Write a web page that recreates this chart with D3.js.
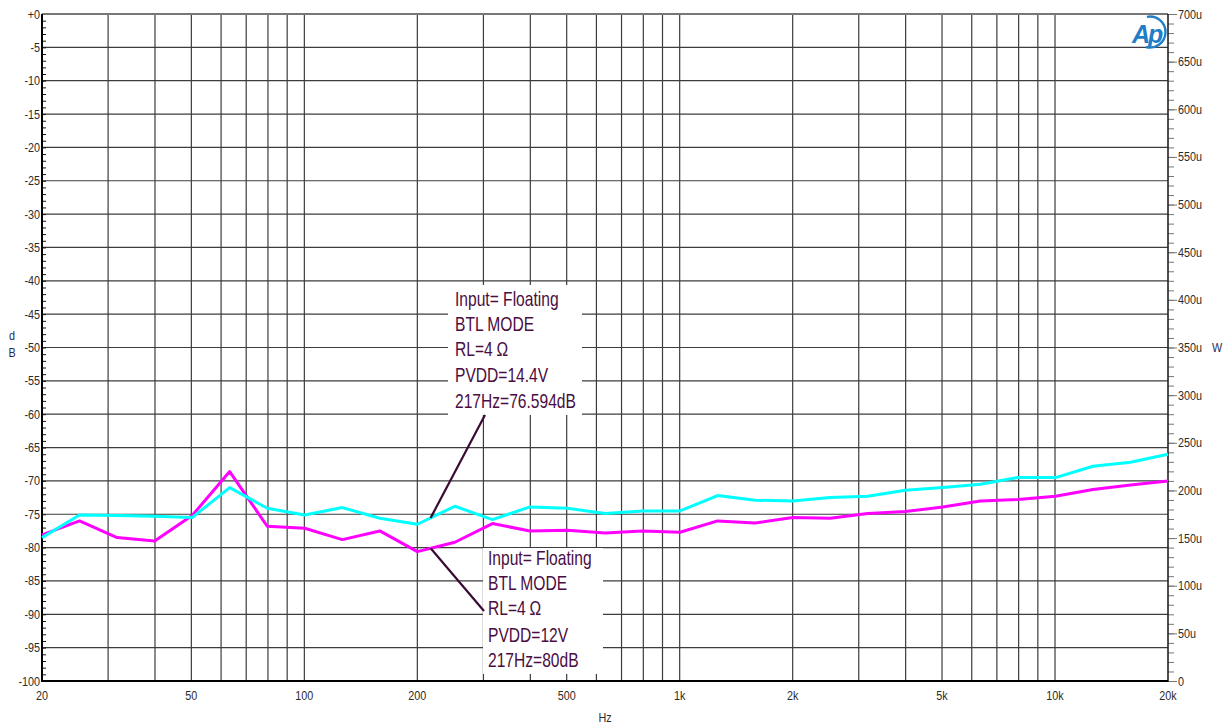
<!DOCTYPE html>
<html>
<head>
<meta charset="utf-8">
<script src="https://cdn.jsdelivr.net/npm/d3@7"></script>
<style>
  html, body { margin: 0; padding: 0; background: #fff; }
  svg { display: block; font-family: "Liberation Sans", Arial, sans-serif; }
</style>
</head>
<body>
<svg id="chart" width="1232" height="725"></svg>
<script>
// 1/3-octave sweep frequencies (Hz)
const freqs = [20, 25.18, 31.70, 39.91, 50.24, 63.25, 79.62, 100.2, 126.2, 158.9,
               200, 251.8, 317.0, 399.1, 502.4, 632.5, 796.2, 1002, 1262, 1589,
               2000, 2518, 3170, 3991, 5024, 6325, 7962, 10024, 12619, 15887, 20000];

// Level in dB, PVDD = 14.4 V
const levelPvdd144 = [-78.5, -75.1, -75.2, -75.3, -75.5, -71.0, -74.1, -75.1, -74.0, -75.6,
                      -76.5, -73.8, -75.8, -73.9, -74.1, -74.9, -74.5, -74.5, -72.2, -72.9,
                      -73.0, -72.5, -72.3, -71.4, -71.0, -70.5, -69.5, -69.5, -67.8, -67.2, -66.0];

// Level in dB, PVDD = 12 V
const levelPvdd12 = [-78.1, -76.0, -78.5, -79.0, -75.2, -68.6, -76.8, -77.1, -78.8, -77.5,
                     -80.6, -79.2, -76.4, -77.5, -77.4, -77.8, -77.5, -77.7, -76.0, -76.3,
                     -75.5, -75.6, -74.9, -74.6, -73.9, -73.0, -72.8, -72.3, -71.3, -70.6, -70.0];

const freqTickValues = [20, 50, 100, 200, 500, 1000, 2000, 5000, 10000, 20000];
const freqTickLabels = ["20", "50", "100", "200", "500", "1k", "2k", "5k", "10k", "20k"];

const dbTickValues = [0, -5, -10, -15, -20, -25, -30, -35, -40, -45, -50,
                      -55, -60, -65, -70, -75, -80, -85, -90, -95, -100];
const dbTickLabels = ["+0", "-5", "-10", "-15", "-20", "-25", "-30", "-35", "-40", "-45", "-50",
                      "-55", "-60", "-65", "-70", "-75", "-80", "-85", "-90", "-95", "-100"];

const wattTickValues = [0, 50e-6, 100e-6, 150e-6, 200e-6, 250e-6, 300e-6, 350e-6,
                        400e-6, 450e-6, 500e-6, 550e-6, 600e-6, 650e-6, 700e-6];
const wattTickLabels = ["0", "50u", "100u", "150u", "200u", "250u", "300u", "350u",
                        "400u", "450u", "500u", "550u", "600u", "650u", "700u"];

const noteFreq = 217;
const noteHighLines = ["Input= Floating", "BTL MODE", "RL=4", "PVDD=14.4V", "217Hz=76.594dB"];
const noteLowLines  = ["Input= Floating", "BTL MODE", "RL=4", "PVDD=12V", "217Hz=80dB"];

const svg = d3.select("#chart");
const plotLeft = 42, plotRight = 1168, plotTop = 14, plotBottom = 681;

const x = d3.scaleLog().domain([20, 20000]).range([plotLeft, plotRight]);
const y = d3.scaleLinear().domain([-100, 0]).range([plotBottom, plotTop]);
const yW = d3.scaleLinear().domain([0, 700e-6]).range([plotBottom, plotTop]);

const gridColor = "#3c3c3c";
const labelColor = "#2b2b2b";
const squeeze = 0.8;   // horizontal condensing of the label face

// Places a condensed text at (px, py)
function narrowText(parent, px, py, str, size, anchor, fill, k = squeeze) {
  return parent.append("text")
    .attr("transform", `translate(${px},${py}) scale(${k},1)`)
    .attr("text-anchor", anchor).attr("font-size", size).attr("fill", fill)
    .text(str);
}

// Vertical log grid lines
const gridFreqs = [];
[10, 100, 1000, 10000].forEach(d => {
  for (let m = 1; m <= 9; m++) {
    const f = m * d;
    if (f > 20 && f < 20000) gridFreqs.push(f);
  }
});
svg.append("g").selectAll("line").data(gridFreqs).join("line")
  .attr("x1", d => x(d)).attr("x2", d => x(d))
  .attr("y1", plotTop).attr("y2", plotBottom)
  .attr("stroke", gridColor).attr("stroke-width", 1.2);

// Horizontal grid lines every 5 dB
svg.append("g").selectAll("line").data(dbTickValues.filter(v => v < 0 && v > -100)).join("line")
  .attr("x1", plotLeft).attr("x2", plotRight)
  .attr("y1", d => y(d)).attr("y2", d => y(d))
  .attr("stroke", gridColor).attr("stroke-width", 1.2);

// Left axis: minor ticks every 1 dB pointing inward
const leftAxis = d3.axisRight(y).tickValues(d3.range(-100, 1, 1)).tickSize(4).tickFormat("");
svg.append("g").attr("transform", `translate(${plotLeft},0)`).call(leftAxis)
  .call(g => g.select(".domain").remove())
  .call(g => g.selectAll(".tick line").attr("stroke", "#111"));

// Left axis labels
const leftLabels = svg.append("g");
dbTickValues.forEach((v, i) =>
  narrowText(leftLabels, plotLeft - 2, y(v) + 4.5, dbTickLabels[i], 13.5, "end", labelColor));

// Right axis: watts, minor ticks every 10u and longer ticks every 50u, outward
const rightMinor = d3.axisRight(yW).tickValues(d3.range(0, 701e-6, 10e-6)).tickSize(6).tickFormat("");
svg.append("g").attr("transform", `translate(${plotRight},0)`).call(rightMinor)
  .call(g => g.select(".domain").remove())
  .call(g => g.selectAll(".tick line").attr("stroke", "#777"));
const rightMajor = d3.axisRight(yW).tickValues(wattTickValues).tickSize(9).tickFormat("");
svg.append("g").attr("transform", `translate(${plotRight},0)`).call(rightMajor)
  .call(g => g.select(".domain").remove())
  .call(g => g.selectAll(".tick line").attr("stroke", "#777"));
const rightLabels = svg.append("g");
wattTickValues.forEach((v, i) =>
  narrowText(rightLabels, plotRight + 10, yW(v) + 4.5, wattTickLabels[i], 13.5, "start", labelColor));

// Bottom axis labels
const bottomLabels = svg.append("g");
freqTickValues.forEach((v, i) =>
  narrowText(bottomLabels, x(v), 700, freqTickLabels[i], 13.5, "middle", labelColor));

// Frame
svg.append("line").attr("x1", plotLeft).attr("x2", plotRight).attr("y1", plotTop).attr("y2", plotTop)
  .attr("stroke", "#777").attr("stroke-width", 2);
svg.append("line").attr("x1", plotLeft).attr("x2", plotLeft).attr("y1", plotTop).attr("y2", plotBottom + 1)
  .attr("stroke", "#000").attr("stroke-width", 2);
svg.append("line").attr("x1", plotRight).attr("x2", plotRight).attr("y1", plotTop).attr("y2", plotBottom + 1)
  .attr("stroke", "#222").attr("stroke-width", 1.6);
svg.append("line").attr("x1", plotLeft).attr("x2", plotRight).attr("y1", plotBottom).attr("y2", plotBottom)
  .attr("stroke", "#000").attr("stroke-width", 2);

// Axis titles
narrowText(svg, 12, 340, "d", 13.5, "middle", "#2a2a55");
narrowText(svg, 12, 357, "B", 13.5, "middle", "#2a2a55");
narrowText(svg, 1217, 352, "W", 13.5, "middle", "#2a2a55");
narrowText(svg, 605, 722, "Hz", 13.5, "middle", labelColor);

// Traces
const line = d3.line().x(d => x(d[0])).y(d => y(d[1]));
svg.append("path").datum(freqs.map((f, i) => [f, levelPvdd12[i]]))
  .attr("d", line).attr("fill", "none").attr("stroke", "#ff00ff")
  .attr("stroke-width", 3).attr("stroke-linejoin", "round");
svg.append("path").datum(freqs.map((f, i) => [f, levelPvdd144[i]]))
  .attr("d", line).attr("fill", "none").attr("stroke", "#00ffff")
  .attr("stroke-width", 3).attr("stroke-linejoin", "round");

// Level of a trace at a given frequency (linear in log-frequency)
function levelAt(series, f) {
  const lf = Math.log10(f);
  for (let i = 0; i < freqs.length - 1; i++) {
    const a = Math.log10(freqs[i]), b = Math.log10(freqs[i + 1]);
    if (lf >= a && lf <= b) return series[i] + (series[i + 1] - series[i]) * (lf - a) / (b - a);
  }
  return series[series.length - 1];
}

// Callouts
const noteColor = "#4a0d42";
function callout(lines, boxX, boxY, boxW, boxH, textX, base, offs, tip, anchor) {
  const g = svg.append("g");
  g.append("rect").attr("x", boxX).attr("y", boxY).attr("width", boxW).attr("height", boxH)
    .attr("fill", "#fff");
  g.append("line").attr("x1", tip[0]).attr("y1", tip[1]).attr("x2", anchor[0]).attr("y2", anchor[1])
    .attr("stroke", "#3a0a33").attr("stroke-width", 2.2);
  lines.forEach((t, i) => {
    const txt = narrowText(g, textX, base + offs[i], t, 20, "start", noteColor, 0.78);
    if (t === "RL=4") txt.append("tspan").attr("dx", 5).text("Ω");
  });
}

const tipHigh = [x(noteFreq), y(levelAt(levelPvdd144, noteFreq))];
const tipLow  = [x(noteFreq), y(levelAt(levelPvdd12, noteFreq))];
callout(noteHighLines, 448, 285, 134, 130, 455, 306, [0, 25, 50, 76, 102], tipHigh, [485, 415]);
callout(noteLowLines, 483, 548, 120, 126, 488, 565, [0, 25, 50, 77, 102], tipLow, [484, 611]);

// Ap logo
svg.append("path")
  .attr("d", d3.arc()({ innerRadius: 15.5, outerRadius: 15.5, startAngle: -0.2, endAngle: 3.4 }))
  .attr("transform", "translate(1150,32)")
  .attr("fill", "none").attr("stroke", "#1f7ec6").attr("stroke-width", 2.4);
svg.append("text").attr("x", 1132).attr("y", 43)
  .attr("font-style", "italic").attr("font-weight", "bold")
  .attr("font-size", 25).attr("fill", "#1f7ec6")
  .attr("letter-spacing", -2).text("Ap");
</script>
</body>
</html>
